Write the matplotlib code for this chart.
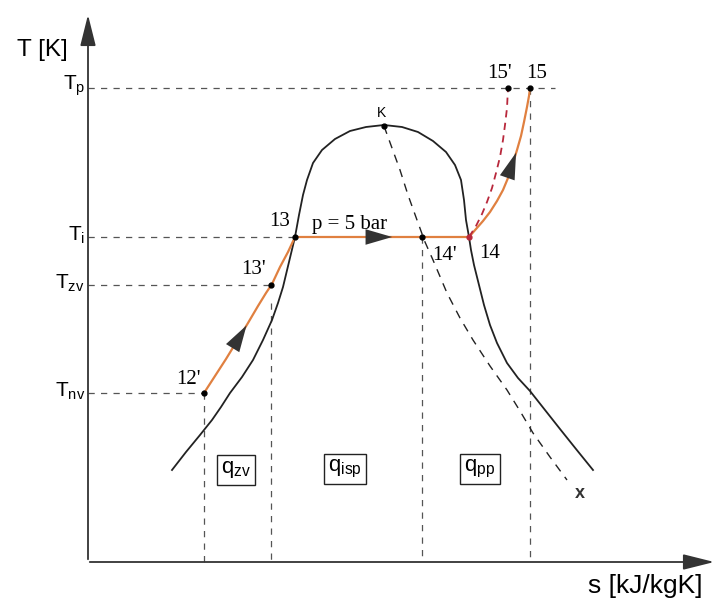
"""T-s diagram: heating of the working fluid (12' -> 13 -> 14 -> 15) at p = 5 bar."""

import matplotlib
matplotlib.use("Agg")
import matplotlib.pyplot as plt

plt.rcParams.update({
    "font.family": "Liberation Sans",
    "mathtext.fontset": "custom",
    "mathtext.rm": "Liberation Sans",
    "mathtext.it": "Liberation Sans",
})

# ── data (picture coordinates, s to the right, T downwards in pixels) ──
AX_X0, AX_Y0 = 88, 562          # origin of the s/T axes
T_LEVELS = {"p": 88, "i": 237, "zv": 285, "nv": 393}
T_LABELS = ["T$_{p}$", "T$_{i}$", "T$_{zv}$", "T$_{nv}$"]

# saturated liquid line + dome + saturated vapour line
sat_s = [172, 186, 200, 212, 221, 230, 242, 253, 263, 272, 278, 283, 289,
         295, 299, 303, 307, 313, 322, 335, 350, 366, 384, 402, 418, 433,
         446, 455, 461, 464, 466, 469, 471, 474, 479, 484, 490, 497, 507,
         518, 530, 545, 560, 576, 593]
sat_T = [470, 452, 435, 420, 407, 393, 377, 360, 340, 320, 303, 287, 262,
         237, 215, 195, 180, 163, 150, 139, 131, 127, 125, 127, 132, 141,
         152, 165, 180, 200, 220, 237, 250, 265, 285, 305, 325, 343, 363,
         378, 391, 410, 429, 449, 470]

# constant-quality line from K to x
x_s = [384, 392, 400, 408, 417, 425, 433, 447, 460, 473, 490, 507, 520,
       533, 550, 567]
x_T = [126, 148, 170, 195, 220, 242, 260, 293, 318, 340, 366, 390, 411,
       433, 457, 480]

# process lines
heat_s = [204, 215, 226, 237, 248, 258, 266, 272, 280, 288, 295]   # 12' -> 13
heat_T = [393, 376, 359, 341, 323, 306, 293, 284, 267, 252, 237]
evap_s = [295, 469]                                                # 13 -> 14
evap_T = [237, 237]
sup_s = [469, 476, 483, 490, 497, 503, 508, 513, 517, 521, 524, 527, 529, 530]
sup_T = [237, 229, 221, 212, 201, 190, 178, 163, 150, 136, 122, 107, 96, 88]
sup2_s = [469, 476, 482, 487, 492, 496, 500, 503, 505, 507, 508]  # 14 -> 15'
sup2_T = [237, 226, 214, 202, 188, 173, 157, 140, 125, 108, 88]

points = {"12'": (204, 393), "13'": (271, 285), "13": (295, 237),
          "14'": (422, 237), "14": (469, 237), "15'": (508, 88),
          "15": (530, 88), "K": (384, 126)}
# vertical dashed drop lines (s, top T)
drops = [(204, 393), (271, 303), (422, 237), (530, 88)]
q_labels = [("q$_{zv}$", 236, 470), ("q$_{isp}$", 345, 469), ("q$_{pp}$", 480, 469)]

ORANGE = "#e08040"
RED = "#b8283c"
DARK = "#222222"
GREY = "#555555"

fig = plt.figure(figsize=(7.17, 6.01), dpi=100)
ax = fig.add_axes([0, 0, 1, 1])
ax.set_xlim(0, 717)
ax.set_ylim(601, 0)
ax.axis("off")

# axes with arrow heads
ax_arrow = dict(arrowstyle="-|>,head_length=1.2,head_width=0.3",
                mutation_scale=16, color="#333333", lw=1.3)
ax.annotate("", xy=(AX_X0, 12), xytext=(AX_X0, AX_Y0), arrowprops=ax_arrow,
            annotation_clip=False)
ax.annotate("", xy=(717, AX_Y0), xytext=(AX_X0 - 1, AX_Y0), arrowprops=ax_arrow,
            annotation_clip=False)
ax.text(17, 50, "T [K]", fontsize=17.5, va="center", ha="left")
ax.text(645, 586, "s [kJ/kgK]", fontsize=19, va="center", ha="center")

# horizontal dashed temperature levels
h_ends = {"p": 555, "i": 295, "zv": 271, "nv": 204}
for (key, y), lab in zip(T_LEVELS.items(), T_LABELS):
    ax.plot([AX_X0, h_ends[key]], [y, y], ls=(0, (5, 5)), color=GREY, lw=0.9)
    ax.text(AX_X0 - 3, y - 2, lab, fontsize=15, ha="right", va="center")

for s, top in drops:
    ax.plot([s, s], [top, AX_Y0], ls=(0, (5, 5)), color=GREY, lw=0.9)

# saturation curve and quality line
ax.plot(sat_s, sat_T, color=DARK, lw=1.3, solid_joinstyle="round")
ax.plot(x_s, x_T, color=DARK, lw=1.0, ls=(0, (6, 5)))
ax.text(580, 493, "x", fontsize=13, fontweight="bold", color="#333333",
        ha="center", va="center")

# process lines
ax.plot(heat_s, heat_T, color=ORANGE, lw=1.6, solid_joinstyle="round")
ax.plot(evap_s, evap_T, color=ORANGE, lw=1.6)
ax.plot(sup_s, sup_T, color=ORANGE, lw=1.6, solid_joinstyle="round")
ax.plot(sup2_s, sup2_T, color=RED, lw=1.3, ls=(0, (4, 3)))

# direction arrows along the process lines
arrow = dict(arrowstyle="-|>,head_length=1.2,head_width=0.35",
             mutation_scale=16, color="#333333", lw=0)
ax.annotate("", xy=(heat_s[4], heat_T[4]), xytext=(heat_s[2], heat_T[2]),
            arrowprops=arrow)
ax.annotate("", xy=(395, 237), xytext=(370, 237), arrowprops=arrow)
ax.annotate("", xy=(sup_s[8], sup_T[8]), xytext=(sup_s[5], sup_T[5]),
            arrowprops=arrow)

# state points
for name, (s, T) in points.items():
    c = RED if name == "14" else "black"
    ax.plot(s, T, "o", color=c, ms=3.5, zorder=5)

serif = dict(family="Liberation Serif", fontsize=15)
ax.text(201, 379, "12'", ha="right", va="center", **serif)
ax.text(266, 269, "13'", ha="right", va="center", **serif)
ax.text(290, 221, "13", ha="right", va="center", **serif)
ax.text(432, 255, "14'", ha="left", va="center", **serif)
ax.text(479, 253, "14", ha="left", va="center", **serif)
ax.text(512, 74, "15'", ha="right", va="center", **serif)
ax.text(526, 74, "15", ha="left", va="center", **serif)
ax.text(350, 225, "p = 5 bar", ha="center", va="center", **serif)
ax.text(381, 113, "K", fontsize=10, ha="center", va="center")

for lab, s, T in q_labels:
    ax.text(s, T, lab, fontsize=16, ha="center", va="center",
            bbox=dict(boxstyle="square,pad=0.2", fc="white", ec=DARK, lw=1.0))

fig.savefig("out.png", dpi=100)
